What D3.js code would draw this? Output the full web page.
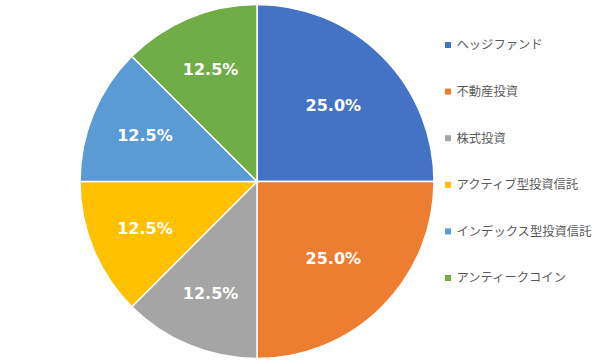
<!DOCTYPE html>
<html><head><meta charset="utf-8">
<script src="https://cdn.jsdelivr.net/npm/d3@7"></script>
<style>body{margin:0;background:#fff}</style>
</head><body>
<svg id="c" width="600" height="360"></svg>
<script>
const categories = ["ヘッジファンド","不動産投資","株式投資","アクティブ型投資信託","インデックス型投資信託","アンティークコイン"];
const values = [25, 25, 12.5, 12.5, 12.5, 12.5];
const colors = ["#4472C4","#ED7D31","#A5A5A5","#FFC000","#5B9BD5","#70AD47"];

const svg = d3.select("#c");
const cx = 257, cy = 181.5, R = 177;
const pie = d3.pie().sort(null).value(d => d)(values);
const arc = d3.arc().innerRadius(0).outerRadius(R);
const total = d3.sum(values);
const labelPos = d => {
  const span = d.endAngle - d.startAngle;
  const r = span > Math.PI / 3 ? R * 0.61 : R * 0.685;
  return d3.arc().innerRadius(r).outerRadius(r).centroid(d);
};
const g = svg.append("g").attr("transform", `translate(${cx},${cy})`);
g.selectAll("path").data(pie).join("path")
  .attr("d", arc).attr("fill", (d,i) => colors[i])
  .attr("stroke", "#fff").attr("stroke-width", 1.5);
g.selectAll("text").data(pie).join("text")
  .attr("transform", d => `translate(${labelPos(d)})`)
  .attr("text-anchor", "middle").attr("dy", "0.36em")
  .attr("fill", "#fff").attr("font-weight", "bold")
  .attr("font-family", "'DejaVu Sans', sans-serif").attr("font-size", 16)
  .text(d => (d.value/total*100).toFixed(1) + "%");

const ly = d3.scalePoint().domain(categories).range([45, 278]);
const lg = svg.append("g");
const item = lg.selectAll("g").data(categories).join("g")
  .attr("transform", d => `translate(445,${ly(d)})`);
item.append("rect").attr("x", 0).attr("y", -3).attr("width", 6).attr("height", 6)
  .attr("fill", (d,i) => colors[i]);
item.append("text").attr("x", 11.5).attr("dy", "0.36em")
  .attr("fill", "#595959").attr("font-size", 12.3)
  .attr("font-family", "'Noto Sans CJK JP', sans-serif")
  .text(d => d);
</script>
</body></html>
